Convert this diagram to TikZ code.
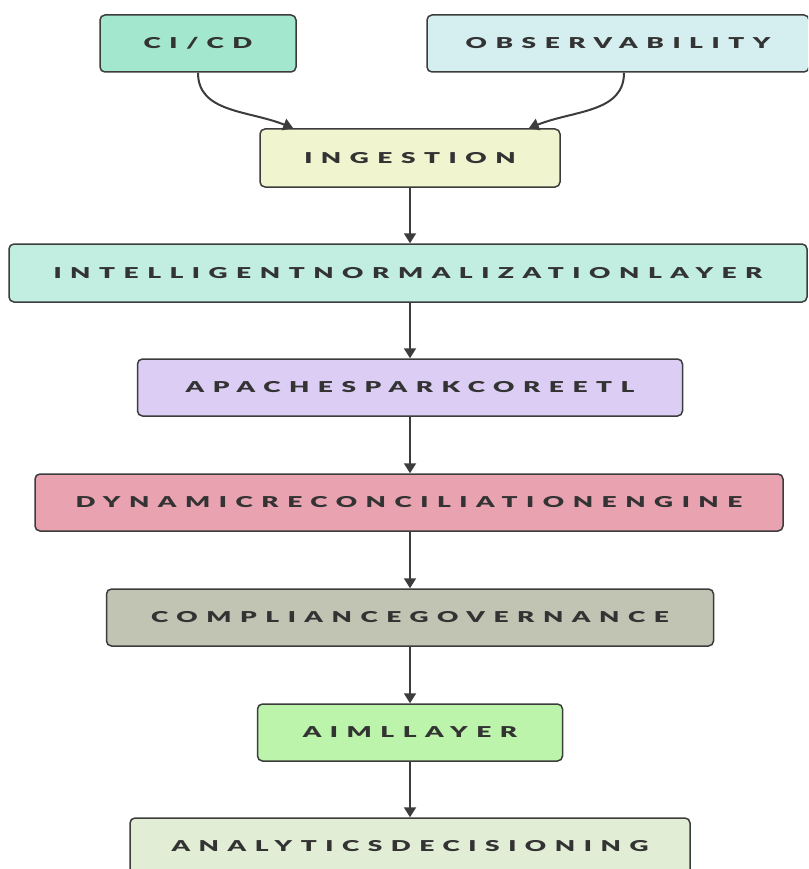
\documentclass[tikz,border=0pt]{standalone}
\usepackage{fontspec}
\usetikzlibrary{arrows.meta}
\newfontfamily\lblfont{Lato Black}[FakeStretch=1.75,LetterSpace=57]
\definecolor{cicd}{RGB}{163,232,206}
\definecolor{obsc}{RGB}{213,238,240}
\definecolor{ingc}{RGB}{240,245,208}
\definecolor{inlc}{RGB}{193,238,224}
\definecolor{sparkc}{RGB}{220,205,245}
\definecolor{dync}{RGB}{233,162,176}
\definecolor{compc}{RGB}{193,196,178}
\definecolor{aimlc}{RGB}{187,244,170}
\definecolor{anac}{RGB}{225,238,213}
\definecolor{edge}{RGB}{60,60,60}
\definecolor{txt}{RGB}{51,51,51}
\tikzset{
  box/.style={draw=edge, line width=1.5pt, rounded corners=5pt, inner sep=0pt,
    minimum height=57pt, text=txt, font=\lblfont\fontsize{15}{18}\selectfont},
  conn/.style={draw=edge, line width=2pt, -{Triangle[width=12pt,length=10pt]}}
}
\begin{document}
\begin{tikzpicture}[x=1pt,y=-1pt]
\clip (0,0) rectangle (808,869);
\fill[white] (0,0) rectangle (808,869);
\node[box, fill=cicd, minimum width=196pt] (ci) at (198,43.5) {CI/CD};
\node[box, fill=obsc, minimum width=382pt] (obs) at (618,43.5) {OBSERVABILITY};
\node[box, fill=ingc, minimum width=300pt, minimum height=58pt] (ing) at (410,158) {INGESTION};
\node[box, fill=inlc, minimum width=798pt, minimum height=58pt] (inl) at (408,273) {INTELLIGENTNORMALIZATIONLAYER};
\node[box, fill=sparkc, minimum width=545pt] (spark) at (410,387.5) {APACHESPARKCOREETL};
\node[box, fill=dync, minimum width=748pt] (dyn) at (409,502.5) {DYNAMICRECONCILIATIONENGINE};
\node[box, fill=compc, minimum width=607pt] (comp) at (410,617.5) {COMPLIANCEGOVERNANCE};
\node[box, fill=aimlc, minimum width=305pt] (aiml) at (410,732.5) {AIMLLAYER};
\node[box, fill=anac, minimum width=560pt] (ana) at (410,846.5) {ANALYTICSDECISIONING};
\draw[conn] (ci.south) .. controls +(0,40) and +(-45,-18) .. ([xshift=34pt]ing.north west);
\draw[conn] ([xshift=6pt]obs.south) .. controls +(0,40) and +(45,-18) .. ([xshift=-32pt]ing.north east);
\draw[conn] (ing.south) -- (ing.south |- inl.north);
\draw[conn] (spark.north |- inl.south) -- (spark.north);
\draw[conn] (spark.south) -- (spark.south |- dyn.north);
\draw[conn] (comp.north |- dyn.south) -- (comp.north);
\draw[conn] (comp.south) -- (comp.south |- aiml.north);
\draw[conn] (aiml.south) -- (aiml.south |- ana.north);
\end{tikzpicture}
\end{document}
